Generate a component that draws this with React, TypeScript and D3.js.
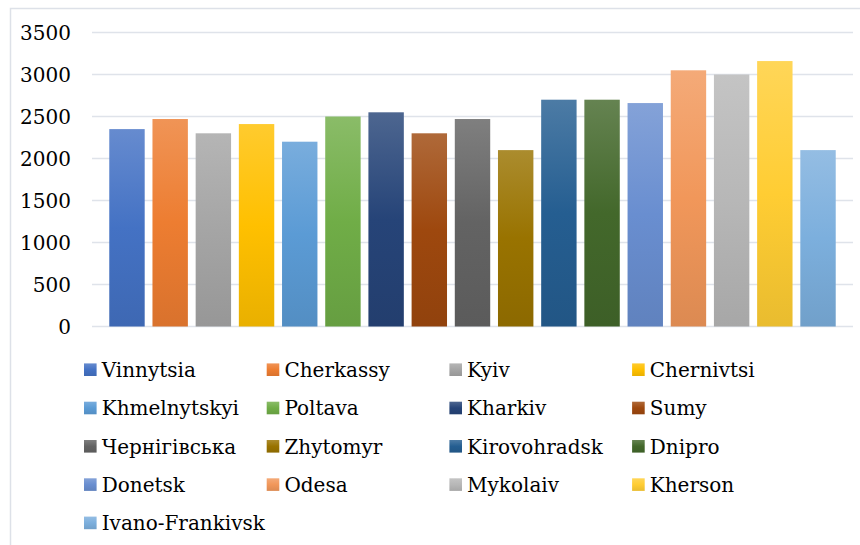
import React from "react";
import * as d3 from "d3";

// Regions and their values
const regions = [
  "Vinnytsia", "Cherkassy", "Kyiv", "Chernivtsi", "Khmelnytskyi", "Poltava",
  "Kharkiv", "Sumy", "Чернігівська", "Zhytomyr", "Kirovohradsk", "Dnipro",
  "Donetsk", "Odesa", "Mykolaiv", "Kherson", "Ivano-Frankivsk",
];
const values = [
  2350, 2470, 2300, 2410, 2200, 2500, 2550, 2300, 2470, 2100, 2700, 2700,
  2660, 3050, 3000, 3160, 2100,
];
const colors = [
  "#4472C4", "#ED7D31", "#A5A5A5", "#FFC000", "#5B9BD5", "#70AD47",
  "#264478", "#9E480E", "#636363", "#997300", "#255E91", "#43682B",
  "#698ED0", "#F1975A", "#B7B7B7", "#FFCD33", "#7CAFDD",
];
const yTicks = [0, 500, 1000, 1500, 2000, 2500, 3000, 3500];

const width = 860;
const height = 545;
const plot = { left: 92, right: 853, top: 32.5, bottom: 326.5 };
// Liberation Serif is not picked up here, DejaVu Serif is the serif we have
const font = "'DejaVu Serif', 'Liberation Serif', 'Times New Roman', Times, serif";
const fontSize = 20;

const App = () => {
  const x = d3
    .scaleBand<string>()
    .domain(regions)
    .range([plot.left, plot.right])
    .paddingInner(0.18)
    .paddingOuter(0.4);

  const y = d3.scaleLinear().domain([0, 3500]).range([plot.bottom, plot.top]);

  // legend grid: 4 columns
  const legendCols = 4;
  const colX = (i: number) => 84 + (i % legendCols) * 182.7;
  const rowY = (i: number) => 369.7 + Math.floor(i / legendCols) * 38.3;

  return (
    <svg
      width={width}
      height={height}
      style={{ position: "absolute", left: 0, top: 0, background: "#fff" }}
    >
      <defs>
        {colors.map((c, i) => {
          const top = d3.interpolateRgb(c, "#ffffff")(0.18);
          const bottom = d3.color(c)!.darker(0.25).formatHex();
          return (
            <linearGradient key={i} id={`g${i}`} x1="0" y1="0" x2="0" y2="1">
              <stop offset="0%" stopColor={top} />
              <stop offset="50%" stopColor={c} />
              <stop offset="100%" stopColor={bottom} />
            </linearGradient>
          );
        })}
      </defs>

      {/* chart border */}
      <rect
        x={10.5}
        y={8.5}
        width={width}
        height={height}
        fill="none"
        stroke="#dde1e8"
        strokeWidth={1.5}
      />

      {/* gridlines + y labels */}
      {yTicks.map((t) => (
        <g key={t}>
          <line
            x1={plot.left}
            x2={plot.right}
            y1={y(t)}
            y2={y(t)}
            stroke="#dfe3ea"
            strokeWidth={1.3}
          />
          <text
            x={71}
            y={y(t)}
            dy="0.36em"
            textAnchor="end"
            fontFamily={font}
            fontSize={fontSize}
            fill="#000"
          >
            {t}
          </text>
        </g>
      ))}

      {/* bars */}
      {regions.map((r, i) => (
        <rect
          key={r}
          x={x(r)}
          y={y(values[i])}
          width={x.bandwidth()}
          height={y(0) - y(values[i])}
          fill={`url(#g${i})`}
        />
      ))}

      {/* legend */}
      {regions.map((r, i) => (
        <g key={r}>
          <rect
            x={colX(i)}
            y={rowY(i) - 6.3}
            width={12.6}
            height={12.6}
            fill={`url(#g${i})`}
          />
          <text
            x={colX(i) + 17.7}
            y={rowY(i) + 7.3}
            fontFamily={font}
            fontSize={fontSize}
            fill="#000"
          >
            {r}
          </text>
        </g>
      ))}
    </svg>
  );
};

export default App;
